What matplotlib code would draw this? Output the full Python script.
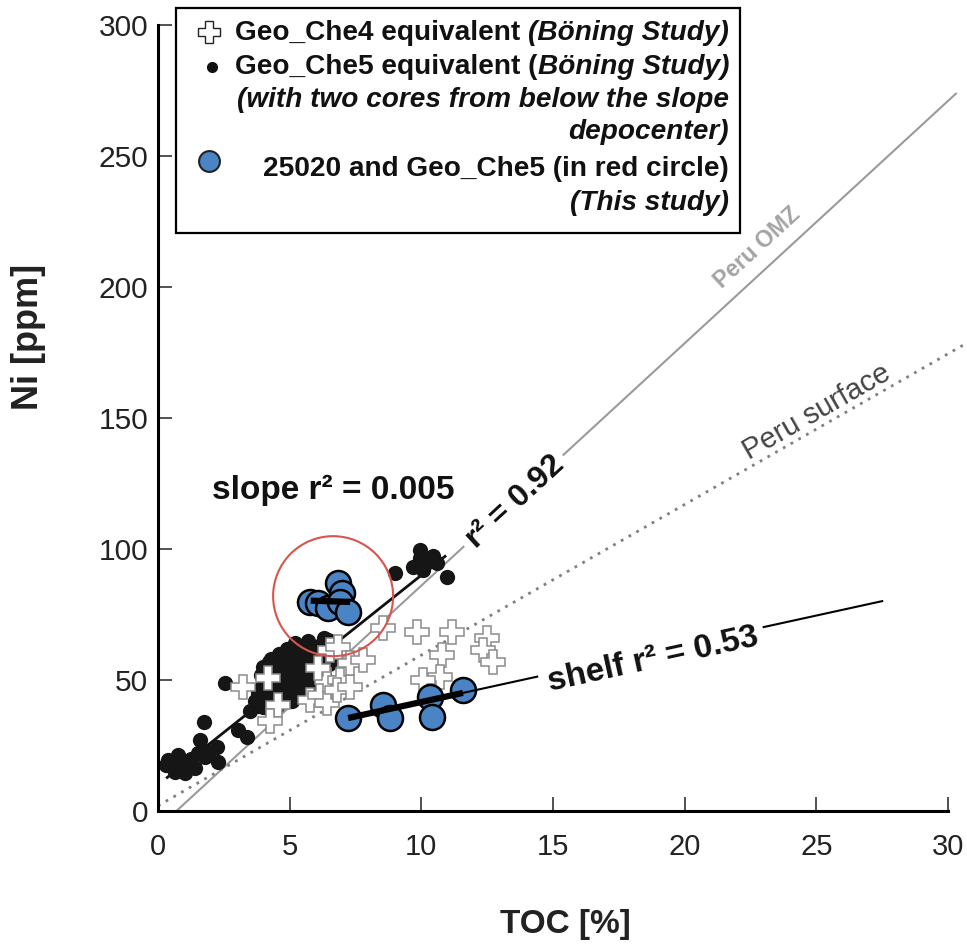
import matplotlib
matplotlib.use('Agg')
import matplotlib.pyplot as plt
import numpy as np
from matplotlib.patches import Ellipse, Rectangle

plt.rcParams['font.family'] = ['Liberation Sans', 'DejaVu Sans']

# ---------------- data ----------------
x_ticks = [0, 5, 10, 15, 20, 25, 30]
y_ticks = [0, 50, 100, 150, 200, 250, 300]

# Geo_Che5 equivalent (Boning study) - black dots
che5_toc = [0.38, 0.65, 0.76, 1.03, 1.10, 1.41, 1.52, 1.60, 1.79, 2.24, 2.28, 0.50, 0.90, 1.25,
            1.95, 0.30, 1.75, 2.54, 3.04, 3.38, 3.49, 3.99, 4.06,
            3.8, 3.9, 4.0, 4.1, 4.2, 4.3, 4.4, 4.5, 4.6, 4.6, 4.7, 4.8, 4.9, 4.9, 5.0, 5.0, 5.1,
            5.2, 5.2, 5.3, 5.3, 5.4, 5.5, 5.5, 5.6, 5.7, 5.8, 5.9, 6.0, 6.1, 6.2, 6.3, 6.4, 6.5,
            6.6, 6.7, 4.5, 4.3, 5.7, 6.3, 4.82, 6.46,
            3.7, 3.9, 4.1, 4.2, 4.4, 4.5, 4.7, 4.8, 4.9, 5.0, 5.1, 5.2, 5.3, 5.4, 5.5, 5.6, 5.7,
            5.8, 5.9, 6.0, 6.1, 6.2, 6.4, 6.6, 4.0, 4.6, 5.2,
            4.4, 4.7, 5.0, 5.6, 6.0, 6.2, 5.4, 3.8, 4.2, 4.8,
            9.0, 9.95, 9.68, 10.06, 10.6, 9.95, 10.98, 10.25, 10.45]
che5_ni = [19.5, 14.9, 21.4, 14.5, 18.3, 16.4, 22.1, 27.1, 20.6, 24.4, 18.7, 17.0, 17.5, 20.0,
           22.5, 17.5, 34.0, 48.9, 30.9, 28.2, 38.2, 39.7, 55.0,
           45, 52, 55, 48, 43, 58, 52, 46, 60, 55, 50, 44, 62, 57, 52, 47, 42,
           64, 59, 54, 49, 45, 62, 57, 52, 65, 60, 55, 50, 63, 58, 66, 61, 56,
           64, 60, 40, 38, 47, 52, 60.3, 65.3,
           42, 47, 52, 57, 49, 55, 58, 53, 48, 60, 56, 51, 46, 58, 53, 48, 61,
           57, 51, 60, 55, 63, 58, 62, 44, 42, 44,
           44, 46, 44, 56, 57, 60, 52, 40, 50, 56,
           90.8, 99.6, 93.1, 92.0, 94.6, 96.6, 89.3, 95.0, 97.5]

# Geo_Che4 equivalent (Boning study) - open plus
che4_toc = [3.23, 4.18, 4.56, 4.25, 5.77, 6.15, 6.42, 6.42, 6.91, 6.80, 7.29, 6.08, 6.53, 6.84,
            7.29, 7.79, 8.55, 9.85, 11.17, 12.50, 12.35, 12.72, 10.78, 10.71, 10.06]
che4_ni = [47.3, 50.8, 40.5, 34.5, 42.4, 44.3, 41.2, 50.0, 50.0, 46.2, 47.3, 54.6, 61.5, 62.6,
           56.5, 57.6, 70.0, 68.3, 68.3, 66.0, 61.5, 56.9, 59.5, 51.1, 50.0]

# This study - slope (25020 / Geo_Che5, red circle) and shelf
slope_toc = [5.77, 6.08, 6.46, 6.84, 6.99, 6.91, 7.22]
slope_ni = [79.8, 79.4, 77.5, 87.0, 83.2, 79.8, 76.0]
shelf_toc = [7.22, 8.55, 8.81, 10.33, 10.41, 11.58]
shelf_ni = [35.5, 40.5, 35.5, 43.5, 35.9, 46.2]

# reference / regression lines (slope, intercept)
omz_fit = (9.25, -6.475)
surface_fit = (5.75, 2.0)
che5_fit = (8.0, 10.0)
shelf_fit = (2.2, 19.6)
slope_fit = (-0.33, 82.2)

# ---------------- figure ----------------
W, H = 967, 949
fig = plt.figure(figsize=(W / 100, H / 100), dpi=100)
ax = fig.add_axes([158 / W, 1 - 811 / H, (948 - 158) / W, (811 - 25) / H])
ax.set_xlim(0, 30)
ax.set_ylim(0, 300)
for s in ['top', 'right']:
    ax.spines[s].set_visible(False)
for s in ['left', 'bottom']:
    ax.spines[s].set_linewidth(2.2)
ax.set_xticks(x_ticks)
ax.set_yticks(y_ticks)
ax.tick_params(axis='both', direction='in', length=10, width=1.2, color='#333')
ax.tick_params(axis='y', labelsize=21.5, pad=7, labelcolor='#222')
ax.tick_params(axis='x', labelsize=21, pad=16, labelcolor='#222')


def line(fit, x0, x1, **kw):
    xs = np.array([x0, x1])
    ax.plot(xs, fit[0] * xs + fit[1], clip_on=False, **kw)


# Peru OMZ (gray, with gap for r2 label)
line(omz_fit, 0.7, 11.6, color='#9a9a9a', lw=1.5, zorder=1.5)
line(omz_fit, 15.4, 30.3, color='#9a9a9a', lw=1.5, zorder=1.5)
# Peru surface dotted
line(surface_fit, 0.0, 30.7, color='#808080', lw=2.0, ls=(0, (1, 2.2)), zorder=1.5)
# Che5 regression
line(che5_fit, 0.35, 10.9, color='#111111', lw=2.0, zorder=1.6)

ax.plot(che5_toc, che5_ni, 'o', ms=11, color='#161616', mec='none', zorder=2)
ax.plot(che4_toc, che4_ni, 'P', ms=17, mfc='white', mec='#8a8a8a', mew=1.1, zorder=3)

blue = '#4a84c4'
ax.plot(slope_toc, slope_ni, 'o', ms=18, mfc=blue, mec='black', mew=1.8, zorder=4)
ax.plot(shelf_toc, shelf_ni, 'o', ms=18, mfc=blue, mec='black', mew=1.8, zorder=4)

line(shelf_fit, 7.22, 11.58, color='black', lw=4.5, zorder=5, solid_capstyle='butt')
line(shelf_fit, 11.58, 14.4, color='black', lw=1.5, zorder=5)
line(shelf_fit, 23.0, 27.5, color='black', lw=1.5, zorder=5)
line(slope_fit, 5.8, 7.3, color='black', lw=4.5, zorder=5, solid_capstyle='butt')

# red circle
ax.add_patch(Ellipse((6.65, 82.0), width=120 / 26.33, height=120 / 2.62, fill=False,
                     edgecolor='#d9544d', lw=1.5, zorder=6))


def angle(fit):
    p0 = ax.transData.transform((10, fit[0] * 10 + fit[1]))
    p1 = ax.transData.transform((20, fit[0] * 20 + fit[1]))
    return np.degrees(np.arctan2(p1[1] - p0[1], p1[0] - p0[0]))


ax.text(13.56, 117.9, 'r² = 0.92', rotation=angle(omz_fit), rotation_mode='anchor',
        ha='center', va='center', fontsize=23, fontweight='bold', color='#111')
ax.text(22.75, 214.9, 'Peru OMZ', rotation=angle(omz_fit), rotation_mode='anchor',
        ha='center', va='center', fontsize=16.5, fontweight='bold', color='#a3a3a3')
ax.text(25.03, 152.3, 'Peru surface', rotation=angle(surface_fit), rotation_mode='anchor',
        ha='center', va='center', fontsize=21, color='#444')
ax.text(18.8, 57.6, 'shelf r² = 0.53', rotation=angle(shelf_fit), rotation_mode='anchor',
        ha='center', va='center', fontsize=24, fontweight='bold', color='#111')
ax.text(6.65, 122.5, 'slope r² = 0.005', ha='center', va='center', fontsize=24,
        fontweight='bold', color='#111')

# axis labels
fig.text(28 / W, 1 - 337 / H, 'Ni [ppm]', rotation=90, ha='center', va='center',
         fontsize=26, fontweight='bold', color='#222')
fig.text(565 / W, 1 - 925 / H, 'TOC [%]', ha='center', va='center', fontsize=24,
         fontweight='bold', color='#222')

# ---------------- legend (pixel overlay) ----------------
lax = fig.add_axes([0, 0, 1, 1], zorder=10)
lax.set_xlim(0, W)
lax.set_ylim(H, 0)
lax.axis('off')
lax.add_patch(Rectangle((176, 8), 740 - 176, 233 - 8, facecolor='white', edgecolor='black', lw=1.6))

fig.canvas.draw()
renderer = fig.canvas.get_renderer()
LFS = 20.2


def tw(s, style='normal'):
    t = lax.text(0, 0, s, fontsize=LFS, fontweight='bold', style=style)
    w = t.get_window_extent(renderer).width
    t.remove()
    return w


space_w = tw('a a') - tw('aa')
legend_lines = [
    (33, [('Geo_Che4 equivalent ', 'normal'), ('(Böning Study)', 'italic')]),
    (67, [('Geo_Che5 equivalent (', 'normal'), ('Böning Study)', 'italic')]),
    (100, [('(with two cores from below the slope', 'italic')]),
    (132, [('depocenter)', 'italic')]),
    (169, [('25020 and Geo_Che5 (in red circle)', 'normal')]),
    (203, [('(This study)', 'italic')]),
]
xr = 729
for yy, segs in legend_lines:
    x = xr
    for txt, st in reversed(segs):
        if txt.endswith(' '):
            x -= space_w
            txt = txt.rstrip()
        t = lax.text(x, yy, txt, ha='right', va='center', fontsize=LFS, fontweight='bold',
                     style=st, color='#111')
        x -= t.get_window_extent(renderer).width

lax.plot([209], [32], 'P', ms=16, mfc='white', mec='#222', mew=1.0)
lax.plot([212], [67], 'o', ms=7, color='#111')
lax.plot([209], [161], 'o', ms=15, mfc=blue, mec='#222', mew=1.5)

fig.savefig('out.png', dpi=100)
